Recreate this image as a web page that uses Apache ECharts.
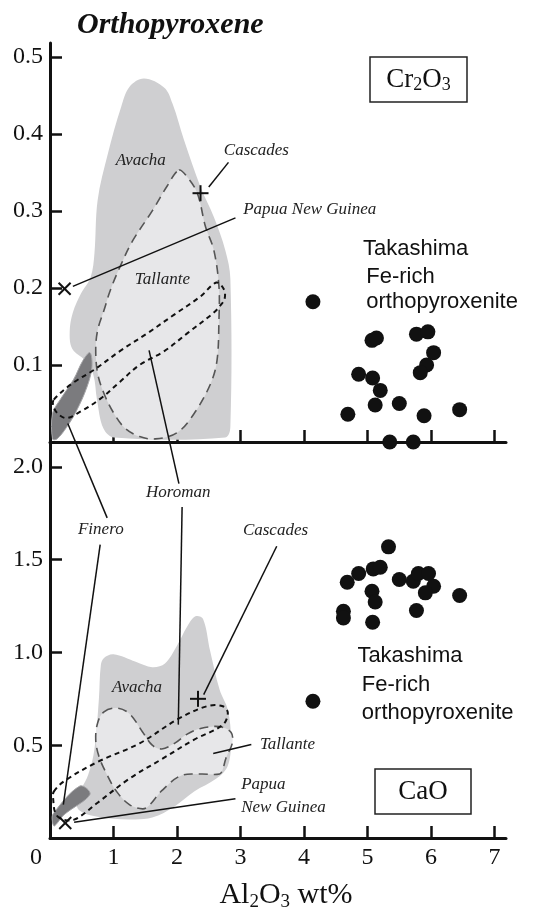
<!DOCTYPE html>
<html>
<head>
<meta charset="utf-8">
<script src="https://cdn.jsdelivr.net/npm/echarts@6/dist/echarts.min.js"></script>
<style>
  html, body { margin: 0; padding: 0; background: #fff; }
  #chart { width: 542px; height: 909px; }
</style>
</head>
<body>
<div id="chart"></div>
<script>
// ========== 数据 ==========
// 上图 Cr2O3 - 各岩体范围 (Al2O3, Cr2O3)
const avachaCr = [
  [1.48, 0.472], [1.80, 0.460], [1.93, 0.439], [2.11, 0.392], [2.37, 0.331],
  [2.58, 0.292], [2.76, 0.249], [2.84, 0.212], [2.84, 0.02], [2.76, 0.006],
  [1.01, 0.006], [0.84, 0.018], [0.74, 0.055], [0.68, 0.088], [0.55, 0.106],
  [0.35, 0.121], [0.31, 0.143], [0.36, 0.168], [0.49, 0.193], [0.64, 0.214],
  [0.70, 0.245], [0.75, 0.314], [0.91, 0.374], [1.12, 0.435], [1.25, 0.461],
];
const tallanteCr = [
  [2.03, 0.353], [2.16, 0.344], [2.32, 0.323], [2.45, 0.279], [2.58, 0.249],
  [2.66, 0.202], [2.66, 0.158], [2.63, 0.106], [2.53, 0.076], [2.27, 0.037],
  [2.0, 0.012], [1.66, 0.004], [1.41, 0.007], [1.18, 0.018], [1.0, 0.038],
  [0.85, 0.063], [0.75, 0.089], [0.72, 0.12], [0.75, 0.145], [0.85, 0.171],
  [0.95, 0.197], [1.10, 0.227], [1.30, 0.261], [1.61, 0.300], [1.85, 0.333],
];
const fineroCr = [
  [0.63, 0.116], [0.66, 0.097], [0.58, 0.071], [0.42, 0.041], [0.26, 0.019],
  [0.11, 0.004], [0.04, 0.004], [0.04, 0.037], [0.16, 0.055], [0.37, 0.081],
  [0.52, 0.106],
];
const horomanCr = [
  [0.06, 0.055], [0.35, 0.076], [0.70, 0.094], [1.10, 0.118], [1.53, 0.141],
  [1.95, 0.165], [2.37, 0.189], [2.62, 0.207], [2.74, 0.198], [2.75, 0.186],
  [2.69, 0.178], [2.58, 0.168], [2.16, 0.141], [1.80, 0.118], [1.41, 0.100],
  [1.10, 0.078], [0.79, 0.056], [0.47, 0.039], [0.26, 0.031], [0.12, 0.037],
  [0.05, 0.047],
];
const cascadesCr = [[2.37, 0.323]];
const papuaCr = [[0.23, 0.199]];
const takashimaCr = [
  [4.14, 0.182], [5.07, 0.132], [5.14, 0.135], [5.77, 0.140], [5.95, 0.143],
  [6.04, 0.116], [5.93, 0.100], [5.83, 0.090], [4.86, 0.088], [5.08, 0.083],
  [5.20, 0.067], [5.12, 0.048], [5.50, 0.050], [4.69, 0.036], [5.89, 0.034],
  [6.45, 0.042], [5.35, 0.0], [5.72, 0.0],
];

// 下图 CaO
const avachaCa = [
  [0.85, 0.97], [1.0, 0.99], [1.35, 0.95], [1.61, 0.92], [1.81, 0.94],
  [1.99, 1.03], [2.16, 1.14], [2.29, 1.195], [2.41, 1.18], [2.52, 1.01],
  [2.67, 0.80], [2.80, 0.69], [2.85, 0.53], [2.80, 0.39], [2.62, 0.32],
  [2.27, 0.25], [1.96, 0.17], [1.61, 0.11], [1.25, 0.10], [0.75, 0.115],
  [0.46, 0.15], [0.42, 0.21], [0.60, 0.34], [0.70, 0.48], [0.77, 0.75],
  [0.80, 0.93],
];
const tallanteCa = [
  [0.85, 0.68], [1.05, 0.70], [1.25, 0.67], [1.46, 0.57], [1.61, 0.50],
  [1.76, 0.48], [1.96, 0.51], [2.16, 0.56], [2.37, 0.59], [2.67, 0.60],
  [2.85, 0.57], [2.87, 0.51], [2.77, 0.43], [2.72, 0.37], [2.67, 0.345],
  [2.37, 0.345], [2.06, 0.336], [1.76, 0.255], [1.56, 0.175], [1.46, 0.157],
  [1.25, 0.18], [1.05, 0.25], [0.90, 0.34], [0.77, 0.44], [0.72, 0.53],
  [0.75, 0.62],
];
const fineroCa = [
  [0.04, 0.085], [0.05, 0.13], [0.47, 0.28], [0.63, 0.235], [0.22, 0.125],
  [0.07, 0.065],
];
const horomanCa = [
  [0.06, 0.25], [0.24, 0.31], [0.75, 0.41], [1.41, 0.51], [2.01, 0.64],
  [2.47, 0.71], [2.72, 0.71], [2.80, 0.675], [2.72, 0.61], [2.27, 0.53],
  [1.76, 0.425], [1.25, 0.32], [0.75, 0.19], [0.39, 0.10], [0.20, 0.10],
  [0.09, 0.13], [0.05, 0.21],
];
const cascadesCa = [[2.33, 0.75]];
const papuaCa = [[0.24, 0.081]];
const takashimaCa = [
  [5.33, 1.569], [4.86, 1.425], [5.09, 1.45], [5.20, 1.459], [4.68, 1.378],
  [5.50, 1.393], [5.72, 1.384], [5.80, 1.425], [5.96, 1.425], [6.04, 1.357],
  [5.91, 1.321], [6.45, 1.307], [5.07, 1.33], [5.12, 1.272], [4.62, 1.222],
  [4.62, 1.186], [5.08, 1.163], [5.77, 1.226], [4.14, 0.737],
];

// 刻度
const xTickValues = [0, 1, 2, 3, 4, 5, 6, 7];
const yTickCr = [0.1, 0.2, 0.3, 0.4, 0.5];
const yTickCa = [0.5, 1.0, 1.5, 2.0];

// 标注: [grid, x, y, text]
const siteLabels = [
  [0, 1.43, 0.365, "Avacha"],
  [0, 3.25, 0.378, "Cascades"],
  [0, 4.09, 0.302, "Papua New Guinea"],
  [0, 1.77, 0.211, "Tallante"],
  [1, 2.02, 1.86, "Horoman"],
  [1, 0.80, 1.662, "Finero"],
  [1, 3.55, 1.659, "Cascades"],
  [1, 1.37, 0.809, "Avacha"],
  [1, 3.74, 0.504, "Tallante"],
];
const papuaLines = [
  [1, 3.01, 0.288, "Papua"],
  [1, 3.01, 0.162, "New Guinea"],
];
// 引线: [grid, x, y, grid, x, y]
const leaders = [
  [0, 2.81, 0.363, 0, 2.50, 0.331],
  [0, 2.92, 0.291, 0, 0.36, 0.202],
  [0, 0.28, 0.024, 1, 0.90, 1.725],
  [0, 1.56, 0.119, 1, 2.03, 1.91],
  [1, 2.08, 1.784, 1, 2.02, 0.611],
  [1, 0.79, 1.581, 1, 0.21, 0.18],
  [1, 3.57, 1.572, 1, 2.42, 0.773],
  [1, 3.17, 0.504, 1, 2.57, 0.455],
  [1, 2.92, 0.211, 1, 0.38, 0.085],
];
const takashimaText = [
  [0, 4.93, 0.251, "Takashima"],
  [0, 4.98, 0.2145, "Fe-rich"],
  [0, 4.98, 0.182, "orthopyroxenite"],
  [1, 4.84, 0.98, "Takashima"],
  [1, 4.91, 0.823, "Fe-rich"],
  [1, 4.91, 0.674, "orthopyroxenite"],
];

// ========== 样式 ==========
const SERIF = '"Liberation Serif", "Times New Roman", serif';
const SANS = '"Liberation Sans", Arial, sans-serif';
const INK = "#111";
const AVACHA = { fill: "#cfcfd1" };
const TALLANTE = { fill: "#e7e7e9", stroke: "#555", lineWidth: 1.6, lineDash: [9, 6] };
const FINERO = { fill: "#7b7b7e", stroke: "#a5a5a8", lineWidth: 1 };
const HOROMAN = { fill: "none", stroke: "#111", lineWidth: 2, lineDash: [5, 4] };

function fieldSeries(grid, pts, style, z) {
  return {
    type: "custom",
    xAxisIndex: grid,
    yAxisIndex: grid,
    silent: true,
    z: z,
    data: [pts[0]],
    renderItem: (params, api) => ({
      type: "polygon",
      shape: { points: pts.map((p) => api.coord(p)), smooth: 0.35 },
      style: style,
    }),
  };
}

function markerSeries(grid, pts, kind) {
  return {
    type: "custom",
    xAxisIndex: grid,
    yAxisIndex: grid,
    silent: true,
    z: 6,
    data: pts,
    renderItem: (params, api) => {
      const c = api.coord([api.value(0), api.value(1)]);
      const r = kind === "plus" ? 8 : 6;
      const segs =
        kind === "plus"
          ? [[0, -r, 0, r], [-r, 0, r, 0]]
          : [[-r, -r, r, r], [-r, r, r, -r]];
      return {
        type: "group",
        children: segs.map((s) => ({
          type: "line",
          shape: { x1: c[0] + s[0], y1: c[1] + s[1], x2: c[0] + s[2], y2: c[1] + s[3] },
          style: { stroke: INK, lineWidth: 2 },
        })),
      };
    },
  };
}

function dotSeries(grid, pts) {
  return {
    type: "scatter",
    xAxisIndex: grid,
    yAxisIndex: grid,
    symbol: "circle",
    symbolSize: 15,
    z: 7,
    itemStyle: { color: INK, opacity: 1 },
    data: pts,
  };
}

function xAxisCfg(grid, showLabels) {
  return {
    type: "value",
    gridIndex: grid,
    min: 0,
    max: 7.18,
    interval: 1,
    axisLine: { show: true, onZero: false, lineStyle: { color: INK, width: 3 } },
    axisTick: {
      show: true, inside: true, length: 12,
      customValues: xTickValues.slice(1),
      lineStyle: { color: INK, width: 2.5 },
    },
    splitLine: { show: false },
    axisLabel: showLabels
      ? {
          show: true,
          customValues: xTickValues,
          margin: 8,
          color: INK,
          fontFamily: SERIF,
          fontSize: 24,
          formatter: (v) => (v === 0 ? "{z|0}" : String(v)),
          rich: { z: { fontFamily: SERIF, fontSize: 24, color: INK, padding: [0, 28, 0, 0] } },
        }
      : { show: false },
    name: showLabels ? "{n|Al}{s|2}{n|O}{s|3}{n| wt%}" : "",
    nameLocation: "middle",
    nameGap: 40,
    nameTextStyle: {
      color: INK,
      fontFamily: SERIF,
      fontSize: 30,
      padding: [0, 0, 0, 16],
      rich: {
        n: { fontFamily: SERIF, fontSize: 30, color: INK, lineHeight: 34 },
        s: { fontFamily: SERIF, fontSize: 19, color: INK, lineHeight: 14, verticalAlign: "bottom" },
      },
    },
  };
}

function yAxisCfg(grid, max, interval, ticks) {
  return {
    type: "value",
    gridIndex: grid,
    min: 0,
    max: max,
    interval: interval,
    axisLine: { show: true, onZero: false, lineStyle: { color: INK, width: 3 } },
    axisTick: {
      show: true, inside: true, length: 12,
      customValues: ticks,
      lineStyle: { color: INK, width: 2.5 },
    },
    splitLine: { show: false },
    axisLabel: {
      show: true,
      customValues: ticks,
      margin: 7,
      color: INK,
      fontFamily: SERIF,
      fontSize: 24,
      formatter: (v) => v.toFixed(1),
    },
  };
}

// ========== 图表 ==========
const chart = echarts.init(document.getElementById("chart"));

chart.setOption({
  backgroundColor: "#fff",
  animation: false,
  title: {
    text: "Orthopyroxene",
    left: 72,
    top: 5,
    textStyle: { fontFamily: SERIF, fontSize: 30, fontStyle: "italic", fontWeight: "bold", color: INK },
  },
  grid: [
    { left: 50, top: 43, width: 456, height: 399, containLabel: false, outerBoundsMode: "none" },
    { left: 50, top: 442, width: 456, height: 396, containLabel: false, outerBoundsMode: "none" },
  ],
  xAxis: [xAxisCfg(0, false), xAxisCfg(1, true)],
  yAxis: [yAxisCfg(0, 0.518, 0.1, yTickCr), yAxisCfg(1, 2.134, 0.5, yTickCa)],
  series: [
    fieldSeries(0, avachaCr, AVACHA, 1),
    fieldSeries(0, tallanteCr, TALLANTE, 2),
    fieldSeries(0, fineroCr, FINERO, 3),
    fieldSeries(0, horomanCr, HOROMAN, 4),
    markerSeries(0, cascadesCr, "plus"),
    markerSeries(0, papuaCr, "cross"),
    dotSeries(0, takashimaCr),
    fieldSeries(1, avachaCa, AVACHA, 1),
    fieldSeries(1, tallanteCa, TALLANTE, 2),
    fieldSeries(1, fineroCa, FINERO, 3),
    fieldSeries(1, horomanCa, HOROMAN, 4),
    markerSeries(1, cascadesCa, "plus"),
    markerSeries(1, papuaCa, "cross"),
    dotSeries(1, takashimaCa),
  ],
});

// ========== 标注 ==========
const px = (g, x, y) => chart.convertToPixel({ gridIndex: g }, [x, y]);
const graphic = [];

leaders.forEach((l) => {
  const a = px(l[0], l[1], l[2]);
  const b = px(l[3], l[4], l[5]);
  graphic.push({
    type: "line", z: 50, silent: true,
    shape: { x1: a[0], y1: a[1], x2: b[0], y2: b[1] },
    style: { stroke: INK, lineWidth: 1.5 },
  });
});

siteLabels.forEach((s) => {
  const p = px(s[0], s[1], s[2]);
  graphic.push({
    type: "text", z: 60, silent: true, x: p[0], y: p[1],
    style: { text: s[3], fill: "#222", font: "italic 17px " + SERIF, align: "center", verticalAlign: "middle" },
  });
});

papuaLines.forEach((s) => {
  const p = px(s[0], s[1], s[2]);
  graphic.push({
    type: "text", z: 60, silent: true, x: p[0], y: p[1],
    style: { text: s[3], fill: "#222", font: "italic 17px " + SERIF, align: "left", verticalAlign: "middle" },
  });
});

takashimaText.forEach((s) => {
  const p = px(s[0], s[1], s[2]);
  graphic.push({
    type: "text", z: 60, silent: true, x: p[0], y: p[1],
    style: { text: s[3], fill: INK, font: "22px " + SANS, align: "left", verticalAlign: "middle" },
  });
});

// 氧化物标签框
function oxideBox(x, y, w, h, text) {
  return {
    type: "group", z: 60, silent: true,
    children: [
      { type: "rect", shape: { x: x, y: y, width: w, height: h }, style: { fill: "#fff", stroke: "#222", lineWidth: 1.5 } },
      {
        type: "text", x: x + w / 2, y: y + h / 2,
        style: {
          text: text, align: "center", verticalAlign: "middle",
          rich: {
            n: { fontFamily: SERIF, fontSize: 27, fill: INK, lineHeight: 30 },
            s: { fontFamily: SERIF, fontSize: 18, fill: INK, lineHeight: 12, verticalAlign: "bottom" },
          },
        },
      },
    ],
  };
}
graphic.push(oxideBox(370, 57, 97, 45, "{n|Cr}{s|2}{n|O}{s|3}"));
graphic.push(oxideBox(375, 769, 96, 45, "{n|CaO}"));

chart.setOption({ graphic: graphic });
window.addEventListener("resize", () => chart.resize());
</script>
</body>
</html>
